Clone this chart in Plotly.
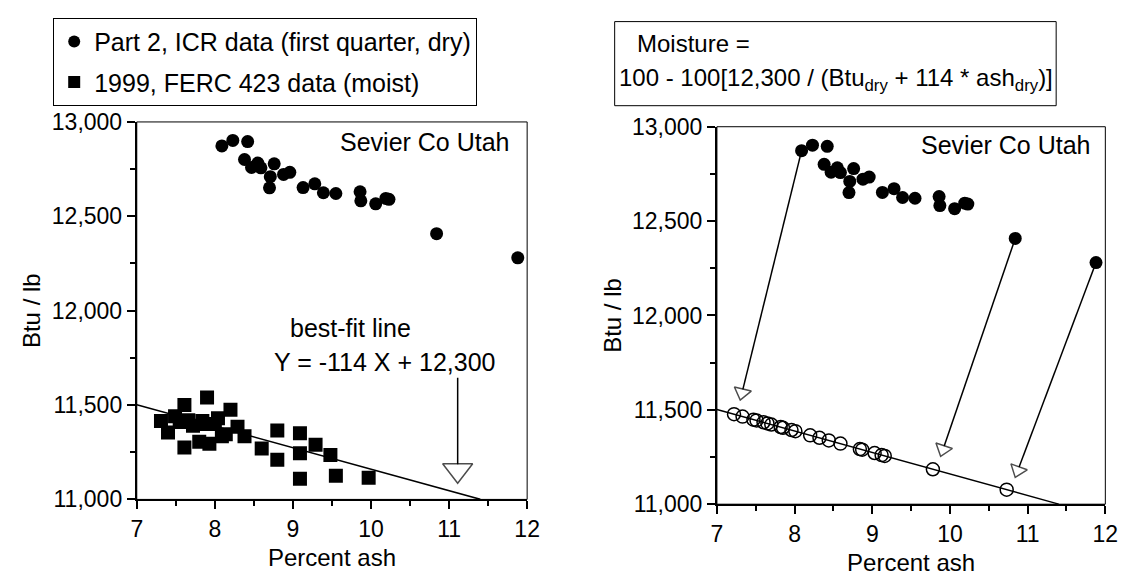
import plotly.graph_objects as go

FONT = "Liberation Sans, Arial, sans-serif"
FS = 25      # labels / legend
FS_TICK = 23
FS_TITLE = 24
FS_FORM = 24

# Part 2, ICR data (first quarter, dry)
dry_ash = [8.09, 8.23, 8.42, 8.38, 8.55, 8.47, 8.59, 8.76, 8.71, 8.70, 8.88, 8.96,
           9.13, 9.28, 9.39, 9.55, 9.86, 9.87, 10.06, 10.19, 10.23, 10.84, 11.88]
dry_btu = [12873, 12902, 12896, 12801, 12782, 12759, 12757, 12778, 12710, 12651, 12722, 12733,
           12652, 12672, 12625, 12621, 12630, 12582, 12566, 12595, 12590, 12408, 12280]

# 1999, FERC 423 data (moist)
moist_ash = [7.31, 7.40, 7.49, 7.55, 7.61, 7.61, 7.66, 7.72, 7.80, 7.84, 7.88, 7.90, 7.93,
             8.00, 8.04, 8.09, 8.14, 8.20, 8.29, 8.38, 8.60, 8.80, 8.80, 9.09, 9.09, 9.09,
             9.29, 9.48, 9.55, 9.97]
moist_btu = [11415, 11355, 11440, 11410, 11500, 11275, 11420, 11390, 11305, 11415, 11400, 11540, 11295,
             11400, 11430, 11335, 11345, 11475, 11385, 11335, 11270, 11365, 11210, 11350, 11245, 11110,
             11290, 11235, 11125, 11115]

# ICR data converted to moist basis (open circles)
adj_ash = [7.22, 7.33, 7.47, 7.51, 7.60, 7.65, 7.70, 7.82, 7.85, 7.96, 8.01, 8.20,
           8.32, 8.44, 8.59, 8.84, 8.87, 9.03, 9.12, 9.16, 9.78, 10.73]
adj_btu = [11477, 11464, 11448, 11444, 11434, 11428, 11422, 11409, 11405, 11393, 11387, 11365,
           11352, 11338, 11321, 11292, 11289, 11271, 11260, 11256, 11185, 11077]

# best-fit line  Y = -114 X + 12,300
fit_slope = -114
fit_intercept = 12300
fit_x = [7.0, 11.4]

# arrows (right panel): dry point -> moist-basis point
arrow_from_ash = [8.09, 10.84, 11.88]
arrow_from_btu = [12873, 12408, 12280]
arrow_to_ash = [7.30, 9.88, 10.84]
arrow_to_btu = [11552, 11253, 11142]

# arrow pointing at the best-fit line (left panel)
fit_arrow_ash = [11.11, 11.11]
fit_arrow_btu = [11645, 11086]

x_ticks = [7, 8, 9, 10, 11, 12]
y_ticks = [11000, 11500, 12000, 12500, 13000]

W, H = 1138, 586
fig = go.Figure()

fit_y = [fit_slope * v + fit_intercept for v in fit_x]

# ---------- left panel ----------
fig.add_trace(go.Scatter(x=fit_x, y=fit_y, mode="lines", line=dict(color="black", width=1.5),
                         showlegend=False, xaxis="x", yaxis="y", hoverinfo="skip"))
fig.add_trace(go.Scatter(x=dry_ash, y=dry_btu, mode="markers", name="Part 2, ICR data (first quarter, dry)",
                         marker=dict(symbol="circle", size=13, color="black"),
                         legendgroup="a", xaxis="x", yaxis="y"))
fig.add_trace(go.Scatter(x=moist_ash, y=moist_btu, mode="markers", name="1999, FERC 423 data (moist)",
                         marker=dict(symbol="square", size=14, color="black"),
                         legendgroup="b", xaxis="x", yaxis="y"))
fig.add_trace(go.Scatter(x=fit_arrow_ash, y=fit_arrow_btu, mode="lines+markers",
                         line=dict(color="black", width=1.5, backoff=19),
                         marker=dict(symbol="triangle-up-open", size=[0, 26], standoff=[0, 13],
                                     angleref="previous", color="black", line=dict(color="black", width=1.5)),
                         showlegend=False, xaxis="x", yaxis="y", hoverinfo="skip"))

# ---------- right panel ----------
fig.add_trace(go.Scatter(x=fit_x, y=fit_y, mode="lines", line=dict(color="black", width=1.5),
                         showlegend=False, xaxis="x2", yaxis="y2", hoverinfo="skip"))
for i in range(len(arrow_from_ash)):
    fig.add_trace(go.Scatter(x=[arrow_from_ash[i], arrow_to_ash[i]], y=[arrow_from_btu[i], arrow_to_btu[i]],
                             mode="lines+markers",
                             line=dict(color="black", width=1.5, backoff=11),
                             marker=dict(symbol="triangle-up-open", size=[0, 15], standoff=[0, 7.5],
                                         angleref="previous", color="black",
                                         line=dict(color="black", width=1.5)),
                             showlegend=False, xaxis="x2", yaxis="y2", hoverinfo="skip"))
fig.add_trace(go.Scatter(x=dry_ash, y=dry_btu, mode="markers", showlegend=False,
                         marker=dict(symbol="circle", size=13, color="black"),
                         xaxis="x2", yaxis="y2"))
fig.add_trace(go.Scatter(x=adj_ash, y=adj_btu, mode="markers", showlegend=False,
                         marker=dict(symbol="circle-open", size=13, color="black",
                                     line=dict(color="black", width=1.5)),
                         xaxis="x2", yaxis="y2"))


def xpx(a, b):
    return [a / W, b / W]


def ypx(top, bottom):
    return [(H - bottom) / H, (H - top) / H]


axis_common = dict(showgrid=False, zeroline=False, showline=True, linecolor="black", linewidth=2,
                   ticks="outside", ticklen=8, tickwidth=1.5, tickcolor="black",
                   tickfont=dict(family=FONT, size=FS_TICK, color="black"))

xcommon = dict(axis_common, range=[7, 12], tickvals=x_ticks,
               minor=dict(dtick=0.5, tick0=7, ticks="outside", ticklen=5, tickwidth=1.5, tickcolor="black"),
               title=dict(text="Percent ash", font=dict(family=FONT, size=FS_TITLE, color="black"), standoff=8))
ycommon = dict(axis_common, range=[11000, 13000], tickvals=y_ticks, tickformat=",d",
               minor=dict(dtick=250, tick0=11000, ticks="outside", ticklen=5, tickwidth=1.5, tickcolor="black"),
               title=dict(text="Btu / lb", font=dict(family=FONT, size=FS_TITLE, color="black"), standoff=4))

fig.update_layout(
    width=W, height=H, margin=dict(l=0, r=0, t=0, b=0),
    paper_bgcolor="white", plot_bgcolor="white",
    font=dict(family=FONT, size=FS, color="black"),
    xaxis=dict(xcommon, domain=xpx(133, 530), anchor="y"),
    yaxis=dict(ycommon, domain=ypx(114, 509), anchor="x"),
    xaxis2=dict(xcommon, domain=xpx(723, 1118), anchor="y2"),
    yaxis2=dict(ycommon, domain=ypx(119, 514), anchor="x2"),
    legend=dict(x=48 / W, y=1 - 5 / H, xanchor="left", yanchor="top",
                bordercolor="black", borderwidth=1, bgcolor="white",
                font=dict(family=FONT, size=FS, color="black"),
                traceorder="grouped", tracegroupgap=5, itemsizing="constant"),
    showlegend=True,
)

# frames
for xr, yr in (("x domain", "y domain"), ("x2 domain", "y2 domain")):
    fig.add_shape(type="rect", xref=xr, yref=yr, x0=0, x1=1, y0=0, y1=1,
                  line=dict(color="black", width=1), layer="above")

# formula box
fig.add_shape(type="rect", xref="paper", yref="paper", x0=619 / W, x1=1068 / W,
              y0=1 - 97 / H, y1=1 - 9 / H, line=dict(color="black", width=1))
fig.add_annotation(xref="paper", yref="paper", x=640 / W, y=1 - 32 / H, xanchor="left", yanchor="middle",
                   text="Moisture =", showarrow=False, font=dict(family=FONT, size=FS_FORM, color="black"))
fig.add_annotation(xref="paper", yref="paper", x=621 / W, y=1 - 70 / H, xanchor="left", yanchor="middle",
                   text="100 - 100[12,300 / (Btu<sub>dry</sub> + 114 * ash<sub>dry</sub>)]",
                   showarrow=False, font=dict(family=FONT, size=FS_FORM, color="black"))

# labels
fig.add_annotation(xref="x domain", yref="y domain", x=0.962, y=0.947, xanchor="right", yanchor="middle",
                   text="Sevier Co Utah", showarrow=False, font=dict(family=FONT, size=FS, color="black"))
fig.add_annotation(xref="x2 domain", yref="y2 domain", x=0.967, y=0.952, xanchor="right", yanchor="middle",
                   text="Sevier Co Utah", showarrow=False, font=dict(family=FONT, size=FS, color="black"))
fig.add_annotation(xref="x", yref="y", x=9.74, y=11906, xanchor="center", yanchor="middle",
                   text="best-fit line", showarrow=False, font=dict(family=FONT, size=FS, color="black"))
fig.add_annotation(xref="x", yref="y", x=11.616, y=11729, xanchor="right", yanchor="middle",
                   text="Y = -114 X + 12,300", showarrow=False, font=dict(family=FONT, size=FS, color="black"))

fig.write_html("out.html")
